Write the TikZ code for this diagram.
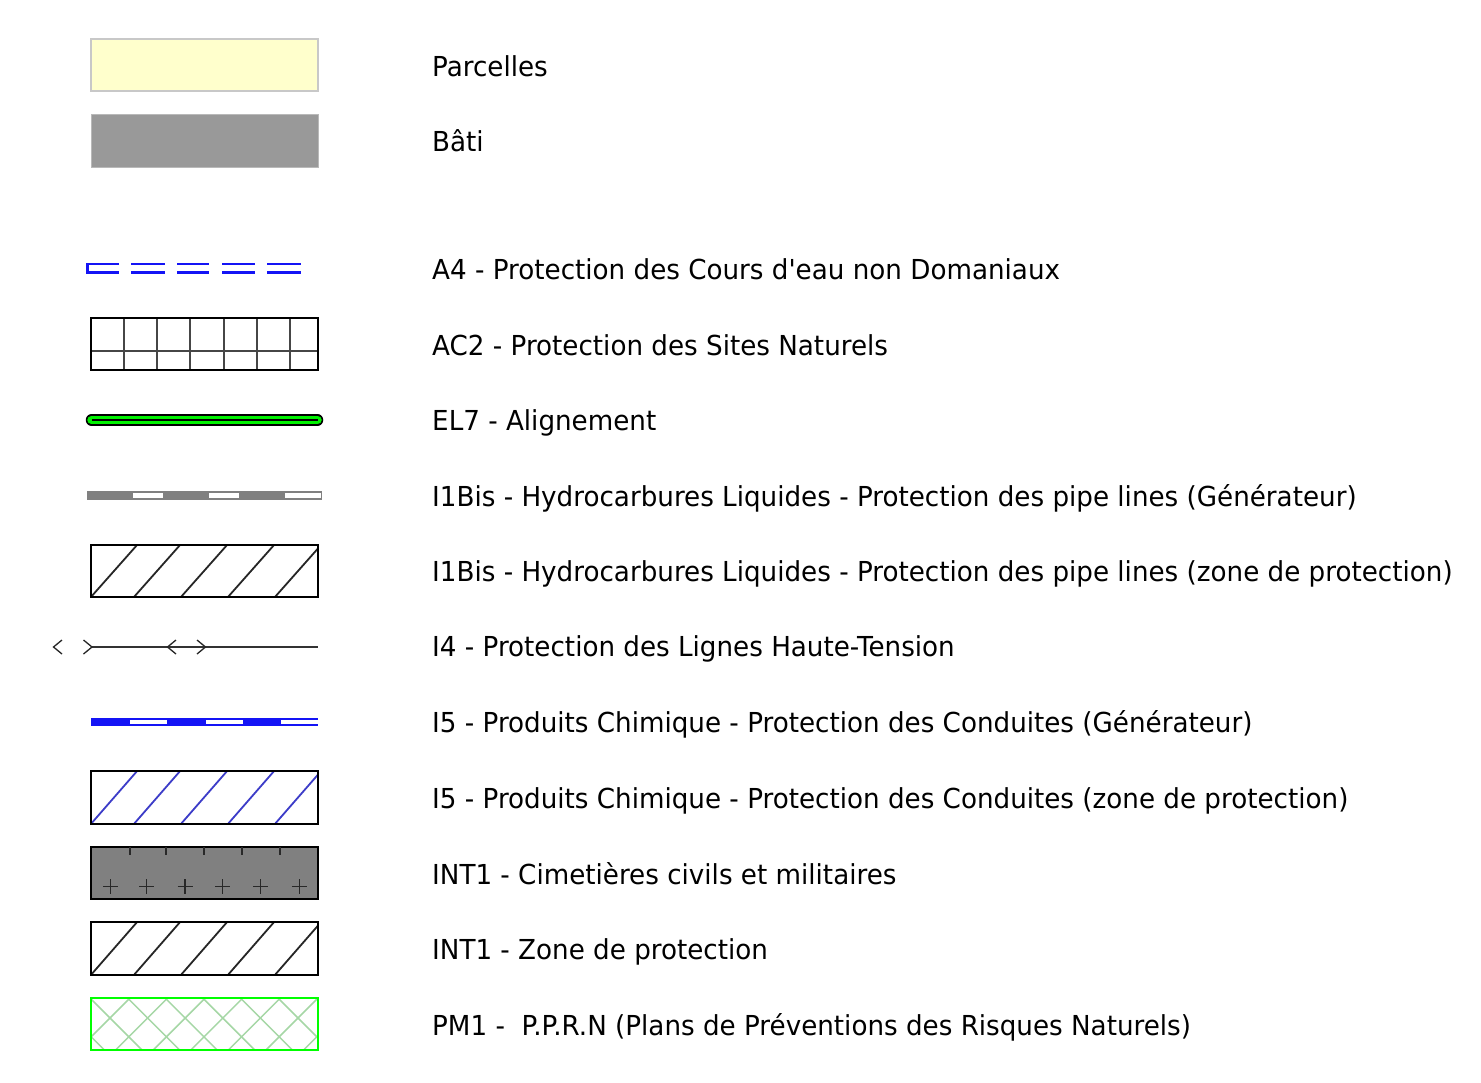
\documentclass[tikz,border=0pt]{standalone}
\usepackage{fontspec}
\newfontfamily\lblfont[FakeStretch=0.952]{DejaVu Sans}
\definecolor{parc}{RGB}{255,255,204}
\definecolor{parcb}{RGB}{200,200,200}
\definecolor{bati}{RGB}{153,153,153}
\definecolor{batib}{RGB}{185,185,185}
\definecolor{ablue}{RGB}{20,20,245}
\definecolor{gridc}{RGB}{70,70,70}
\definecolor{elgreen}{RGB}{0,240,0}
\definecolor{pgray}{RGB}{128,128,128}
\definecolor{hblue}{RGB}{60,60,200}
\definecolor{cem}{RGB}{128,128,128}
\definecolor{cemd}{RGB}{40,40,40}
\definecolor{pmg}{RGB}{0,255,0}
\definecolor{pml}{RGB}{165,215,165}
\newcommand\myhatch[3]{%
  \begin{scope}
    \clip (91,-#1) rectangle (318,-#2);
    \foreach \xo in {91,134,181,228,275}
      \draw[#3, line width=1.8] (\xo-5,-#2-5.6) -- (\xo+51,-#1+5.6);
  \end{scope}
  \draw[black, line width=2] (91,-#1) rectangle (318,-#2);}
\begin{document}
\begin{tikzpicture}[x=1pt,y=1pt,
  lbl/.style={anchor=base west, inner sep=0pt, text=black, font=\lblfont\fontsize{27.5}{33}\selectfont}]
\useasboundingbox[fill=white] (0,0) rectangle (1481,-1082);
% Parcelles
\draw[parcb, fill=parc, line width=1.2] (91,-39) rectangle (318,-91);
% Bati
\draw[batib, fill=bati, line width=0.8] (91,-114) rectangle (318,-167);
% A4
\begin{scope}[ablue, line width=2.9]
  \draw[miter limit=10] (119,-264) -- (87.3,-264) -- (87.3,-272.7) -- (119,-272.7);
  \foreach \a/\b in {131/165,177/209,222/255,267/301}{
    \draw (\a,-264) -- (\b,-264);
    \draw (\a,-272.7) -- (\b,-272.7);}
\end{scope}
% AC2
\foreach \xv in {124,157,190,223.7,257,290}
  \draw[gridc, line width=1.6] (\xv,-318) -- (\xv,-370);
\draw[gridc, line width=1.6] (91,-351) -- (318,-351);
\draw[black, line width=2] (91,-318) rectangle (318,-370);
% EL7
\draw[black, line width=11.5, line cap=round] (91.5,-420) -- (317.5,-420);
\draw[elgreen, line width=8.5, line cap=round] (91.5,-420) -- (317.5,-420);
\draw[black, line width=2] (92,-420) -- (318,-420);
% I1Bis generateur
\fill[pgray] (87,-491) rectangle (322,-499.5);
\foreach \a/\b in {133.3/162.7,208.5/239,284.5/320.5}
  \fill[white] (\a,-493) rectangle (\b,-497.5);
% I1Bis zone
\myhatch{545}{597}{black!85}
% I4
\draw[black!80, line width=1.2] (92,-647) -- (318,-647);
\begin{scope}[black!85, line width=1.3]
  \draw (62,-640) -- (53.5,-647) -- (62,-654);
  \draw (83.5,-640) -- (92,-647) -- (83.5,-654);
  \draw (176,-640) -- (167.5,-647) -- (176,-654);
  \draw (197,-640) -- (205.5,-647) -- (197,-654);
\end{scope}
% I5 generateur
\fill[ablue] (91,-718) rectangle (318,-726);
\foreach \a/\b in {129.5/166.5,205.5/242.5,280.5/318}
  \fill[white] (\a,-720.2) rectangle (\b,-723.8);
% I5 zone
\myhatch{771}{824}{hblue}
% INT1 cimetieres
\draw[black, fill=cem, line width=2] (91,-847) rectangle (318,-899);
\foreach \xv in {130,166,204,242,280}
  \draw[cemd, line width=1.4] (\xv,-847) -- (\xv,-855);
\foreach \xv in {110.7,146.7,185,222.7,260.7,299.3}{
  \draw[cemd, line width=1.4] (\xv-7.5,-886.5) -- (\xv+7.5,-886.5);
  \draw[cemd, line width=1.4] (\xv,-879) -- (\xv,-894);}
% INT1 zone
\myhatch{922}{975}{black!85}
% PM1
\begin{scope}
  \clip (91,-998) rectangle (318,-1050);
  \foreach \k in {-2,...,8}{
    \pgfmathsetmacro\cc{1128+\k*37.6}
    \draw[pml, line width=1.5] (\cc-1060,-1060) -- (\cc-990,-990);
    \pgfmathsetmacro\dd{-908+\k*37.6}
    \draw[pml, line width=1.5] (\dd+990,-990) -- (\dd+1060,-1060);}
\end{scope}
\draw[pmg, line width=2.4] (91,-998) rectangle (318,-1050);
% Labels
\node[lbl] (t1) at (432,-76) {Parcelles};
\node[lbl] (t2) at (432,-151) {Bâti};
\node[lbl] (t3) at (432,-279) {A4 - Protection des Cours d'eau non Domaniaux};
\node[lbl] (t4) at (432,-355) {AC2 - Protection des Sites Naturels};
\node[lbl] (t5) at (432,-430) {EL7 - Alignement};
\node[lbl] (t6) at (432,-506) {I1Bis - Hydrocarbures Liquides - Protection des pipe lines (Générateur)};
\node[lbl] (t7) at (432,-581) {I1Bis - Hydrocarbures Liquides - Protection des pipe lines (zone de protection)};
\node[lbl] (t8) at (432,-656) {I4 - Protection des Lignes Haute-Tension};
\node[lbl] (t9) at (432,-732) {I5 - Produits Chimique - Protection des Conduites (Générateur)};
\node[lbl] (t10) at (432,-808) {I5 - Produits Chimique - Protection des Conduites (zone de protection)};
\node[lbl] (t11) at (432,-884) {INT1 - Cimetières civils et militaires};
\node[lbl] (t12) at (432,-959) {INT1 - Zone de protection};
\node[lbl] (t13) at (432,-1035) {PM1 -\ \ P.P.R.N (Plans de Préventions des Risques Naturels)};
\end{tikzpicture}
\end{document}
